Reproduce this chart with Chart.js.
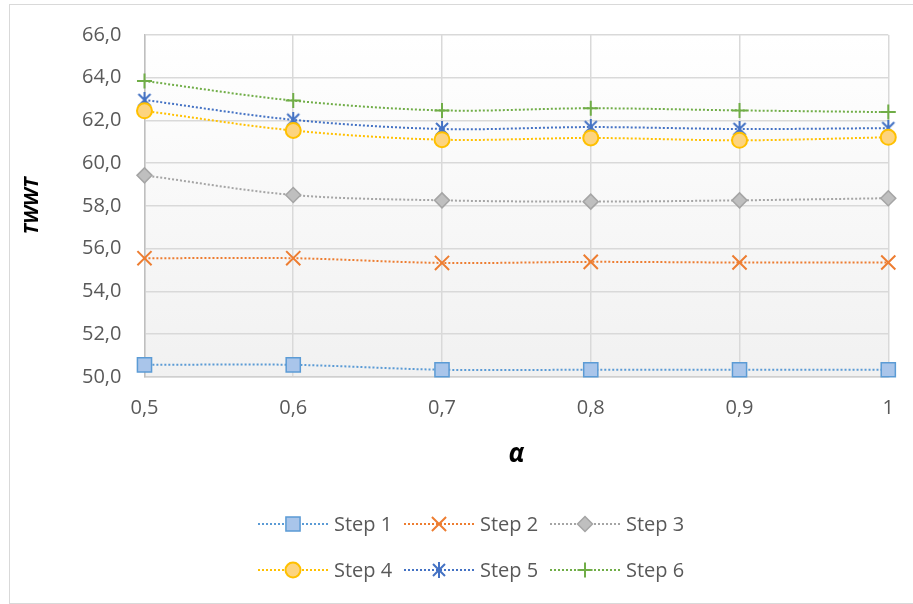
<!DOCTYPE html>
<html>
<head>
<meta charset="utf-8">
<title>TWWT vs alpha</title>
<script src="https://cdn.jsdelivr.net/npm/chart.js@4.4.1/dist/chart.umd.min.js"></script>
<style>
    html, body { margin: 0; padding: 0; background: #fff; }
    #wrap { position: relative; width: 913px; height: 604px; overflow: hidden; }
    #frame { position: absolute; left: 9px; top: 4px; width: 903px; height: 598px; border: 1px solid #d9d9d9; }
    #twwtChart { position: absolute; left: 0; top: 0; }
</style>
</head>
<body>
<div id="wrap">
    <div id="frame"></div>
    <canvas id="twwtChart" width="913" height="604"></canvas>
</div>
<script>
/* TWWT per step for different alpha values */

const ALPHA = ['0,5', '0,6', '0,7', '0,8', '0,9', '1'];
const STEP_NAMES = ['Step 1', 'Step 2', 'Step 3', 'Step 4', 'Step 5', 'Step 6'];

const STEP1 = [50.56, 50.56, 50.33, 50.33, 50.33, 50.33];
const STEP2 = [55.55, 55.55, 55.33, 55.38, 55.35, 55.35];
const STEP3 = [59.43, 58.51, 58.26, 58.20, 58.26, 58.36];
const STEP4 = [62.45, 61.53, 61.10, 61.18, 61.07, 61.21];
const STEP5 = [62.96, 62.03, 61.60, 61.69, 61.60, 61.64];
const STEP6 = [63.85, 62.93, 62.47, 62.57, 62.47, 62.39];

const Y_MIN = 50;
const Y_MAX = 66;
const Y_STEP = 2;

const FONT = '"Open Sans", "Noto Sans", sans-serif';
const TEXT_GREY = '#595959';

// Excel-like star marker: an X with a vertical bar
function starMarker(color) {
    const c = document.createElement('canvas');
    c.width = 16;
    c.height = 16;
    const g = c.getContext('2d');
    g.strokeStyle = color;
    g.lineWidth = 2;
    g.beginPath();
    g.moveTo(2, 2); g.lineTo(14, 14);
    g.moveTo(14, 2); g.lineTo(2, 14);
    g.moveTo(8, 0); g.lineTo(8, 16);
    g.stroke();
    return c;
}

const STYLES = [
    { line: '#5b9bd5', fill: '#a9c5ea', border: '#5b9bd5', point: 'rect', radius: 10, bw: 1.5 },
    { line: '#ed7d31', fill: '#ed7d31', border: '#ed7d31', point: 'crossRot', radius: 10, bw: 2 },
    { line: '#a5a5a5', fill: '#bfbfbf', border: '#a5a5a5', point: 'rectRot', radius: 7.5, bw: 1.5 },
    { line: '#ffc000', fill: '#fdd47f', border: '#ffc000', point: 'circle', radius: 7.5, bw: 2 },
    { line: '#4472c4', fill: '#4472c4', border: '#4472c4', point: starMarker('#4472c4'), radius: 8, bw: 2 },
    { line: '#70ad47', fill: '#70ad47', border: '#70ad47', point: 'cross', radius: 7.5, bw: 2 },
];

const SERIES = [STEP1, STEP2, STEP3, STEP4, STEP5, STEP6];

const datasets = SERIES.map((values, i) => {
    const s = STYLES[i];
    return {
        label: STEP_NAMES[i],
        data: values,
        borderColor: s.line,
        borderWidth: 2,
        borderDash: [2, 2],
        tension: 0.33,
        fill: false,
        clip: false,
        pointStyle: s.point,
        pointRadius: s.radius,
        pointHoverRadius: s.radius,
        pointBackgroundColor: s.fill,
        pointBorderColor: s.border,
        pointBorderWidth: s.bw,
    };
});

// light vertical gradient behind the plot area
const plotBackground = {
    id: 'plotBackground',
    beforeDraw(chart) {
        const { ctx, chartArea: a } = chart;
        const g = ctx.createLinearGradient(0, a.top, 0, a.bottom);
        g.addColorStop(0, '#ffffff');
        g.addColorStop(1, '#f1f1f1');
        ctx.save();
        ctx.fillStyle = g;
        ctx.fillRect(a.left, a.top, a.right - a.left, a.bottom - a.top);
        ctx.restore();
    }
};

// two-row legend, line + marker symbol like the spreadsheet one
const stepLegend = {
    id: 'stepLegend',
    afterDraw(chart) {
        const ctx = chart.ctx;
        ctx.save();
        ctx.font = '20px ' + FONT;
        ctx.textBaseline = 'middle';
        ctx.textAlign = 'left';
        chart.data.datasets.forEach((ds, i) => {
            const x = 258 + (i % 3) * 146;
            const y = 524 + Math.floor(i / 3) * 46;
            ctx.strokeStyle = ds.borderColor;
            ctx.lineWidth = 2;
            ctx.setLineDash([2, 2]);
            ctx.beginPath();
            ctx.moveTo(x, y);
            ctx.lineTo(x + 70, y);
            ctx.stroke();
            ctx.setLineDash([]);
            ctx.fillStyle = ds.pointBackgroundColor;
            ctx.strokeStyle = ds.pointBorderColor;
            ctx.lineWidth = ds.pointBorderWidth;
            Chart.helpers.drawPoint(ctx, {
                pointStyle: ds.pointStyle,
                radius: ds.pointRadius,
                borderWidth: ds.pointBorderWidth,
                rotation: 0,
            }, x + 35, y);
            ctx.fillStyle = TEXT_GREY;
            ctx.fillText(ds.label, x + 76, y + 1);
        });
        ctx.restore();
    }
};

new Chart(document.getElementById('twwtChart'), {
    type: 'line',
    data: { labels: ALPHA, datasets },
    options: {
        responsive: false,
        animation: false,
        layout: { padding: { left: 20, top: 33, right: 24, bottom: 134 } },
        scales: {
            x: {
                offset: false,
                grid: { color: '#d9d9d9', lineWidth: 1.5, drawTicks: false },
                border: { color: '#cfcfcf', width: 1.5 },
                ticks: { color: TEXT_GREY, padding: 19, font: { family: FONT, size: 20 } },
                title: {
                    display: true,
                    text: 'α',
                    color: '#000',
                    padding: { top: 0, bottom: 0 },
                    font: { family: FONT, size: 26, weight: 'bold', style: 'italic' },
                },
            },
            y: {
                min: Y_MIN,
                max: Y_MAX,
                grid: { color: '#d9d9d9', lineWidth: 1.5, drawTicks: false },
                border: { color: '#bfbfbf', width: 1.5 },
                ticks: {
                    stepSize: Y_STEP,
                    color: TEXT_GREY,
                    padding: 23,
                    font: { family: FONT, size: 20 },
                    callback: v => v.toFixed(1).replace('.', ','),
                },
                title: {
                    display: true,
                    text: 'TWWT',
                    color: '#000',
                    padding: { top: 0, bottom: 15 },
                    font: { family: FONT, size: 20, weight: 'bold', style: 'italic' },
                },
            },
        },
        plugins: {
            legend: { display: false },
            tooltip: { enabled: false },
        },
    },
    plugins: [plotBackground, stepLegend],
});
</script>
</body>
</html>
